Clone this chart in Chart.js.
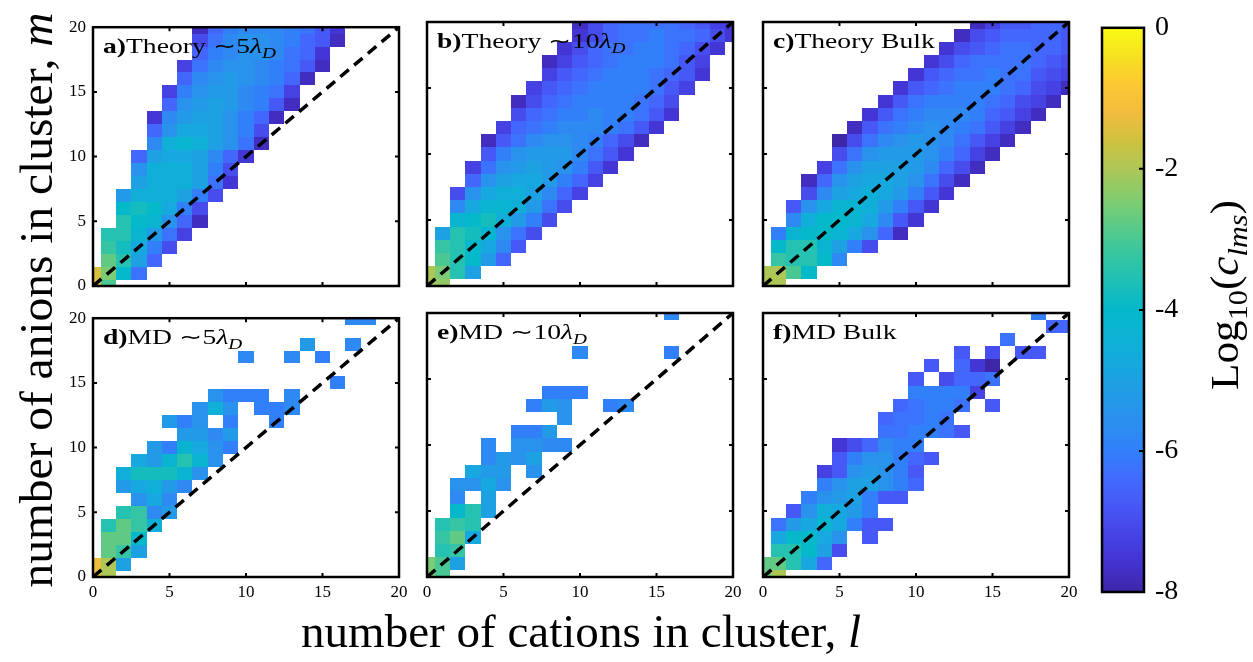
<!DOCTYPE html>
<html>
<head>
<meta charset="utf-8">
<script src="https://cdn.jsdelivr.net/npm/chart.js@4.4.1/dist/chart.umd.min.js"></script>
<style>
  html, body { margin: 0; padding: 0; background: #fff; }
  body { width: 1253px; height: 662px; position: relative; overflow: hidden; }
  canvas { position: absolute; }
</style>
</head>
<body>
<canvas id="bg" width="1253" height="662" style="left:0;top:0"></canvas>
<canvas id="pa"></canvas>
<canvas id="pb"></canvas>
<canvas id="pc"></canvas>
<canvas id="pd"></canvas>
<canvas id="pe"></canvas>
<canvas id="pf"></canvas>
<canvas id="cbar"></canvas>
<script>
// cell code: '0' = -8 ... 'w' = 0, step 0.25 in log10(c_lms); '.' = no cell
const LEVELS = '0123456789abcdefghijklmnopqrstuvw';
const axisTicks = [0, 5, 10, 15, 20];
const cbarTicks = [-8, -6, -4, -2, 0];

// rows from m = 20 (top) down to m = 0, "first l : codes"
const theory5 = [
  '7:1689998752', '7:479aa98651', '7:689aa9762', '6:379aa98751', '6:69aba9861',
  '5:38abb9873', '5:6abcb9851', '4:29bcca861', '4:6addca84', '4:9efeca71',
  '3:6cddc962', '3:aeeec84', '3:ceeec72', '2:beeec84', '2:ghgd84',
  '2:igfa61', '1:iifb73', '1:jhd84', '1:lic6', '0:qmg7', '0:rk'
];
const theory10 = [
  '10:14677776532', '10:24677877642', '9:24677887642', '8:13567888753', '8:35678887652',
  '7:35678888753', '6:14678888764', '6:46788988752', '5:36789998752', '4:1579aa98641',
  '4:58abbb9752', '3:37abcba852', '3:6acddb863', '2:4adeec963', '2:9dffeb74',
  '2:fgheb84', '1:cihfa74', '1:jigd95', '1:kigb6', '0:omic', '0:on'
];
const theoryBulk = [
  '14:1355665', '13:14566665', '12:245677665', '11:2467777654', '10:25677877543',
  '9:256788876431', '8:257888876431', '7:257899986531', '6:15789a987531', '5:0479aba97531',
  '5:47abbba8631', '4:37acccb9641', '3:16acddca741', '3:49cdedb852', '2:5adffeb852',
  '2:9eggfd952', '1:8fggfda61', '1:giifc84', '1:jiig9', '0:ookg', '0:oo'
];
const md5 = [
  '17:99', '', '14:b..9', '10:9..9.8', '',
  '16:8', '8:a888.9', '7:aea.889', '5:b8a.8..8', '6:bb9b',
  '4:b8fda8', '3:dbfifa', '2:ehhhfa', '2:bdeb9', '3:ad9',
  '2:ij9b', '1:ilje', '1:llg', '1:ljc', '0:roc', '0:ro'
];
const md10 = [
  '16:9', '', '', '10:9.....8', '',
  '', '8:888', '7:8ba..89', '9:a', '6:88b',
  '4:9.aa99', '4:9bac', '3:dbb.a', '2:aada', '2:9.c',
  '2:gic', '1:iji', '1:jld', '1:ij', '0:mkc', '0:mk'
];
const mdBulk = [
  '18:8', '19:66', '16:7', '13:5.4.55', '11:5.620',
  '10:5.4667', '10:88883', '9:67887.5', '8:67787', '8:778875',
  '5:246988', '5:58aa865', '4:35aba85', '4:8acca86', '3:8abc855',
  '2:5aedb8', '1:7bdfd855', '1:dggda.5', '1:iigc4', '0:llid6', '0:lo'
];

const PARULA = ['#3e26a8', '#4232cf', '#4643e5', '#4756f5', '#426bfe', '#327ffa', '#2b8fef',
  '#229be6', '#17a7df', '#0cb1d4', '#05b8ca', '#1ebfb6', '#38c6a1', '#5bca87', '#85cc6d',
  '#adc757', '#cfc23f', '#f2bc3e', '#fcc832', '#f6e121', '#f9fb14'];

const FONT = '"Liberation Serif", "Times New Roman", serif';

function hexRgb(h) { return [1, 3, 5].map(i => parseInt(h.substr(i, 2), 16)); }
function parula(v) {
  const t = Math.min(1, Math.max(0, (v + 8) / 8)) * (PARULA.length - 1);
  const i = Math.min(PARULA.length - 2, Math.floor(t)), f = t - i;
  const a = hexRgb(PARULA[i]), b = hexRgb(PARULA[i + 1]);
  return 'rgb(' + a.map((c, k) => Math.round(c + (b[k] - c) * f)).join(',') + ')';
}

function toCells(rows) {
  const cells = [];
  rows.forEach((row, i) => {
    if (!row) return;
    const [start, codes] = row.split(':');
    [...codes].forEach((ch, k) => {
      if (ch === '.') return;
      cells.push({ x: +start + k, y: 20 - i, v: -8 + LEVELS.indexOf(ch) / 4 });
    });
  });
  return cells;
}

// --- rich text (sub/italic/bold runs) ---
function fontFor(size, f) {
  const s = f.includes('s') ? size * 0.7 : size;
  return (f.includes('i') ? 'italic ' : '') + (f.includes('b') ? 'bold ' : '') + s + 'px ' + FONT;
}
function runsWidth(ctx, runs, size) {
  let w = 0;
  runs.forEach(([t, f]) => { ctx.font = fontFor(size, f); w += ctx.measureText(t).width; });
  return w;
}
function drawRich(ctx, runs, x, y, size, o = {}) {
  const w0 = runsWidth(ctx, runs, size);
  const sx = o.width ? o.width / w0 : (o.sx || 1);
  ctx.save();
  ctx.translate(x, y);
  ctx.rotate(o.angle || 0);
  ctx.scale(sx, 1);
  ctx.fillStyle = '#000';
  ctx.textBaseline = 'alphabetic';
  ctx.textAlign = 'left';
  let cx = o.align === 'left' ? 0 : -w0 / 2;
  runs.forEach(([t, f]) => {
    ctx.font = fontFor(size, f);
    ctx.fillText(t, cx, f.includes('s') ? size * 0.22 : 0);
    cx += ctx.measureText(t).width;
  });
  ctx.restore();
}

// --- panels ---
const colLeft = [93, 427, 763], rowTop = [22, 313];
const W = 306, H = 264, padL = 40, padR = 14, padT = 12, padB = 30;
const LABEL_SIZE = 21;

const labelA = [['a)', 'b'], ['Theory ∼5', ''], ['λ', 'i'], ['D', 'is']];
const measure = document.getElementById('bg').getContext('2d');
const LABEL_SX = 173 / runsWidth(measure, labelA, LABEL_SIZE);

const panels = [
  { id: 'pa', rows: theory5, col: 0, row: 0, label: labelA },
  { id: 'pb', rows: theory10, col: 1, row: 0, label: [['b)', 'b'], ['Theory ∼10', ''], ['λ', 'i'], ['D', 'is']] },
  { id: 'pc', rows: theoryBulk, col: 2, row: 0, label: [['c)', 'b'], ['Theory Bulk', '']] },
  { id: 'pd', rows: md5, col: 0, row: 1, label: [['d)', 'b'], ['MD ∼5', ''], ['λ', 'i'], ['D', 'is']] },
  { id: 'pe', rows: md10, col: 1, row: 1, label: [['e)', 'b'], ['MD ∼10', ''], ['λ', 'i'], ['D', 'is']] },
  { id: 'pf', rows: mdBulk, col: 2, row: 1, label: [['f)', 'b'], ['MD Bulk', '']] }
];

const heatmap = {
  id: 'heatmap',
  beforeDatasetsDraw(chart) {
    const { ctx, chartArea: a, scales: { x, y } } = chart;
    ctx.save();
    ctx.beginPath();
    ctx.rect(a.left, a.top, a.right - a.left, a.bottom - a.top);
    ctx.clip();
    chart.data.datasets[0].data.forEach(p => {
      const x0 = Math.round(x.getPixelForValue(p.x - 0.5)), x1 = Math.round(x.getPixelForValue(p.x + 0.5));
      const y0 = Math.round(y.getPixelForValue(p.y + 0.5)), y1 = Math.round(y.getPixelForValue(p.y - 0.5));
      ctx.fillStyle = parula(p.v);
      ctx.fillRect(x0, y0, x1 - x0, y1 - y0);
    });
    ctx.restore();
  },
  afterDatasetsDraw(chart, args, opts) {
    const { ctx, chartArea: a, scales: { x, y } } = chart;
    ctx.save();
    ctx.strokeStyle = '#000';
    ctx.lineWidth = 2;
    ctx.beginPath();
    axisTicks.slice(1, -1).forEach(v => {
      const px = x.getPixelForValue(v), py = y.getPixelForValue(v);
      ctx.moveTo(px, a.bottom); ctx.lineTo(px, a.bottom - 4);
      ctx.moveTo(px, a.top); ctx.lineTo(px, a.top + 4);
      ctx.moveTo(a.left, py); ctx.lineTo(a.left + 4, py);
      ctx.moveTo(a.right, py); ctx.lineTo(a.right - 4, py);
    });
    ctx.stroke();
    ctx.lineWidth = 2.5;
    ctx.strokeRect(a.left, a.top, a.right - a.left, a.bottom - a.top);
    drawRich(ctx, opts.label, a.left + 10, a.top + 26, LABEL_SIZE, { align: 'left', sx: LABEL_SX });
    ctx.restore();
  }
};

panels.forEach(p => {
  const cv = document.getElementById(p.id);
  cv.width = padL + W + padR;
  cv.height = padT + H + padB;
  cv.style.left = (colLeft[p.col] - padL) + 'px';
  cv.style.top = (rowTop[p.row] - padT) + 'px';
  const tickFont = { family: FONT, size: 17 };
  new Chart(cv, {
    type: 'scatter',
    data: {
      datasets: [
        { data: toCells(p.rows), pointRadius: 0, showLine: false },
        { data: [{ x: 0, y: 0 }, { x: 20, y: 20 }], showLine: true, borderColor: '#000',
          borderWidth: 3.5, borderDash: [11, 7], pointRadius: 0 }
      ]
    },
    options: {
      responsive: false,
      animation: false,
      events: [],
      layout: { padding: { top: padT, right: padR, left: 0, bottom: 0 } },
      plugins: { legend: { display: false }, tooltip: { enabled: false }, heatmap: { label: p.label } },
      scales: {
        x: {
          type: 'linear', min: 0, max: 20,
          afterBuildTicks: s => { s.ticks = axisTicks.map(v => ({ value: v })); },
          afterFit: s => { s.height = padB; },
          ticks: { display: p.row === 1, font: tickFont, color: '#000', padding: 5, maxRotation: 0, autoSkip: false },
          grid: { display: false, drawTicks: false }, border: { display: false }
        },
        y: {
          type: 'linear', min: 0, max: 20,
          afterBuildTicks: s => { s.ticks = axisTicks.map(v => ({ value: v })); },
          afterFit: s => { s.width = padL; },
          ticks: { display: p.col === 0, font: tickFont, color: '#000', padding: 7, autoSkip: false },
          grid: { display: false, drawTicks: false }, border: { display: false }
        }
      }
    },
    plugins: [heatmap]
  });
});

// --- colorbar ---
const colorbar = {
  id: 'colorbar',
  beforeDatasetsDraw(chart) {
    const { ctx, chartArea: a, scales: { y } } = chart;
    const g = ctx.createLinearGradient(0, y.getPixelForValue(-8), 0, y.getPixelForValue(0));
    PARULA.forEach((c, i) => g.addColorStop(i / (PARULA.length - 1), c));
    ctx.save();
    ctx.fillStyle = g;
    ctx.fillRect(a.left, a.top, a.right - a.left, a.bottom - a.top);
    ctx.strokeStyle = '#000';
    ctx.lineWidth = 2;
    ctx.beginPath();
    cbarTicks.slice(1, -1).forEach(v => {
      const py = y.getPixelForValue(v);
      ctx.moveTo(a.right, py); ctx.lineTo(a.right - 5, py);
    });
    ctx.stroke();
    ctx.lineWidth = 2.5;
    ctx.strokeRect(a.left, a.top, a.right - a.left, a.bottom - a.top);
    drawRich(ctx, [['Log', ''], ['10', 's'], ['(', ''], ['c', 'i'], ['lms', 'is'], [')', '']],
      148, 295, 40, { angle: -Math.PI / 2, width: 190 });
    ctx.restore();
  }
};

const cb = document.getElementById('cbar');
cb.width = 163; cb.height = 662;
cb.style.left = '1090px'; cb.style.top = '0px';
new Chart(cb, {
  type: 'scatter',
  data: { datasets: [{ data: [] }] },
  options: {
    responsive: false,
    animation: false,
    events: [],
    layout: { padding: { left: 12, top: 14, bottom: 70, right: 0 } },
    plugins: { legend: { display: false }, tooltip: { enabled: false } },
    scales: {
      x: { display: false, min: 0, max: 1 },
      y: {
        position: 'right', min: -8, max: 0,
        afterBuildTicks: s => { s.ticks = cbarTicks.map(v => ({ value: v })); },
        afterFit: s => { s.width = 109; },
        ticks: { font: { family: FONT, size: 28 }, color: '#000', padding: 11 },
        grid: { display: false, drawTicks: false }, border: { display: false }
      }
    }
  },
  plugins: [colorbar]
});

// --- shared axis titles ---
const bg = document.getElementById('bg').getContext('2d');
drawRich(bg, [['number of anions in cluster, ', ''], ['m', 'i']], 52, 300, 46, { angle: -Math.PI / 2, width: 575 });
drawRich(bg, [['number of cations in cluster, ', ''], ['l', 'i']], 581, 647, 46, { width: 560 });
</script>
</body>
</html>
